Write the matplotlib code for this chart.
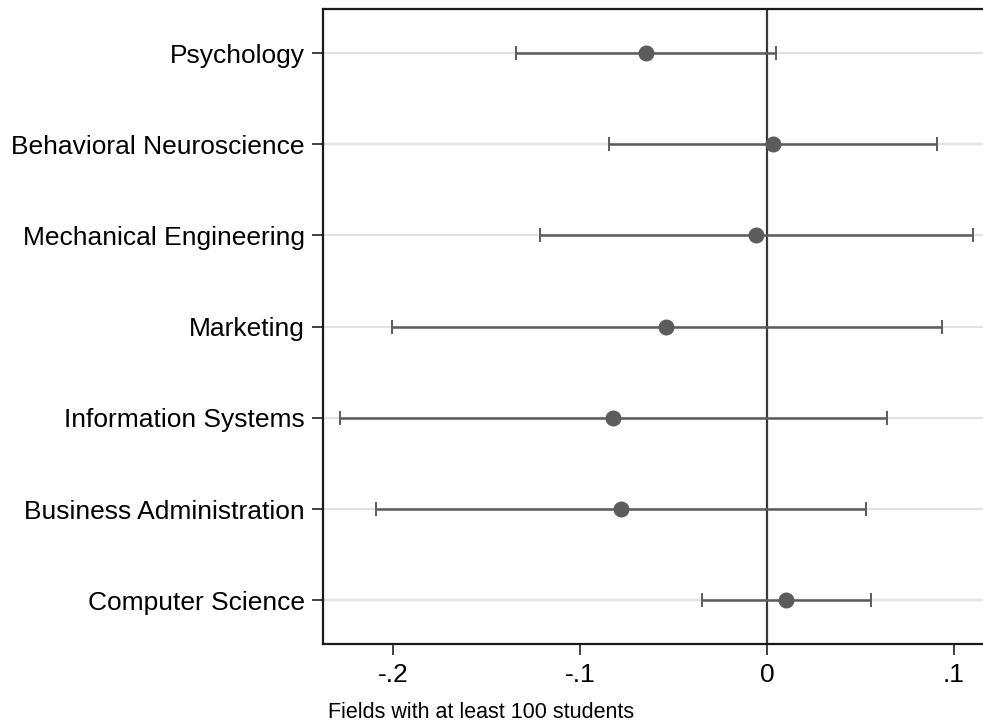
import matplotlib.pyplot as plt

# fields, top to bottom, with point estimates and 95% CI bounds
fields = ["Psychology", "Behavioral Neuroscience", "Mechanical Engineering",
          "Marketing", "Information Systems", "Business Administration",
          "Computer Science"]
estimate = [-0.0647, 0.0032, -0.0059, -0.0540, -0.0824, -0.0780, 0.0102]
ci_low = [-0.1340, -0.0845, -0.1214, -0.2005, -0.2283, -0.2090, -0.0348]
ci_high = [0.0048, 0.0909, 0.1100, 0.0936, 0.0642, 0.0530, 0.0556]
xticks = [-0.2, -0.1, 0.0, 0.1]
xtick_labels = ["-.2", "-.1", "0", ".1"]

plt.rcParams["font.family"] = ["Liberation Sans", "DejaVu Sans"]

fig = plt.figure(figsize=(9.83, 7.25), dpi=100)
ax = fig.add_axes([0.3283, 0.1117, 1.0 - 0.3283, 0.8755])

ypos = list(range(len(fields), 0, -1))
err_lo = [e - lo for e, lo in zip(estimate, ci_low)]
err_hi = [hi - e for e, hi in zip(estimate, ci_high)]

# light horizontal gridlines at each field
for y in ypos:
    ax.axhline(y, color="#e2e2e2", lw=1.6, zorder=0)

ax.axvline(0, color="#3a3a3a", lw=1.6, zorder=1)

ax.errorbar(estimate, ypos, xerr=[err_lo, err_hi], fmt="o", color="#5c5c5c",
            ecolor="#5c5c5c", elinewidth=1.8, capsize=5, capthick=1.4,
            markersize=10.5, zorder=3)

ax.set_xlim(-0.2376, 0.1155)
ax.set_ylim(0.52, len(fields) + 0.48)
ax.set_yticks(ypos)
ax.set_yticklabels(fields, fontsize=19)
ax.set_xticks(xticks)
ax.set_xticklabels(xtick_labels, fontsize=19)
ax.tick_params(axis="both", length=8, width=1.3, color="#333333")
ax.tick_params(axis="y", pad=5)
ax.tick_params(axis="x", pad=6)

ax.spines["right"].set_visible(False)
for side in ["left", "top", "bottom"]:
    ax.spines[side].set_linewidth(1.6)
    ax.spines[side].set_color("#1a1a1a")

fig.text(328 / 983, 1 - 718 / 725, "Fields with at least 100 students",
         fontsize=15.5, ha="left", va="baseline")

fig.savefig("out.png", dpi=100)
